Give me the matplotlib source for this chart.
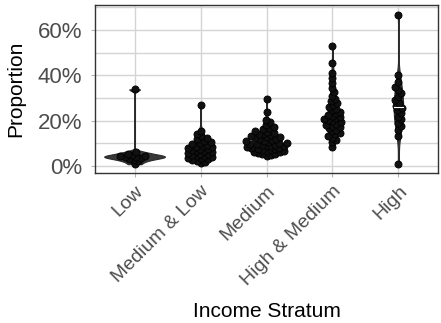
import numpy as np
import matplotlib
matplotlib.use("Agg")
import matplotlib.pyplot as plt
from matplotlib.ticker import FuncFormatter, MultipleLocator

plt.rcParams['font.family'] = ['Liberation Sans', 'DejaVu Sans']

strata = ["Low", "Medium & Low", "Medium", "High & Medium", "High"]

# proportions in percent
low = [0.8, 2.0, 2.7, 3.2, 3.6, 3.9, 4.1, 4.3, 4.6, 5.0, 5.5, 6.2, 33.8]
medium_low = [1.2, 1.8, 2.3, 2.7, 3.0, 3.4, 3.7, 4.0, 4.3, 4.6, 4.9, 5.2, 5.5,
              5.8, 6.1, 6.4, 6.7, 7.0, 7.3, 7.6, 7.9, 8.2, 8.5, 8.9, 9.3, 9.7,
              10.2, 10.7, 11.2, 11.8, 12.5, 13.3, 14.3, 15.5, 26.9]
medium = [4.5, 4.8, 5.1, 5.4, 5.7, 6.0, 6.2, 6.5, 6.7, 7.0, 7.2, 7.4, 7.7, 7.9,
          8.1, 8.3, 8.6, 8.8, 9.0, 9.2, 9.4, 9.6, 9.8, 10.0, 10.2, 10.5,
          10.8, 11.1, 11.5, 11.8, 12.0, 12.3, 12.6, 12.9, 13.2, 13.5,
          13.9, 14.3, 14.7, 15.1, 15.6, 16.1, 16.7, 17.4, 18.2, 19.2, 20.2,
          24.0, 29.5]
high_medium = [8.2, 10.5, 11.5, 12.5, 13.3, 14.0, 14.7, 15.3, 16.0, 16.6, 17.2,
               17.7, 18.2, 18.7, 19.2, 19.7, 20.1, 20.5, 21.0, 21.5, 22.0, 22.6,
               23.2, 23.8, 24.5, 25.2, 26.0, 26.8, 27.7, 28.6, 29.6, 30.8, 32.5,
               34.5, 36.5, 38.7, 40.9, 45.3, 52.9]
high = [0.9, 13.2, 15.9, 17.5, 19.0, 20.5, 21.8, 23.3, 24.7, 25.5, 26.5, 27.8,
        29.0, 30.5, 32.0, 33.5, 35.0, 37.0, 40.0, 66.8]

groups = [low, medium_low, medium, high_medium, high]

W, H, DPI = 441, 323, 100
fig = plt.figure(figsize=(W / DPI, H / DPI), dpi=DPI)
L, R, T, B = 95, 438, 5, 173
ax = fig.add_axes([L / W, 1 - B / H, (R - L) / W, (B - T) / H])
xlim = (-0.6, 4.6)
ylim = (-3.1, 71.0)
ax.set_xlim(*xlim)
ax.set_ylim(*ylim)
px_x = (R - L) / (xlim[1] - xlim[0])
px_y = (B - T) / (ylim[1] - ylim[0])


def kde(v, grid):
    v = np.asarray(v, float)
    iqr = np.subtract(*np.percentile(v, [75, 25]))
    bw = 0.9 * min(v.std(ddof=1), iqr / 1.34) * len(v) ** -0.2
    z = (grid[:, None] - v[None, :]) / bw
    return np.exp(-0.5 * z ** 2).sum(1) / (len(v) * bw * np.sqrt(2 * np.pi))


def swarm(vals, d):
    # simple beeswarm in pixel space, ties alternate sides
    y = np.asarray(vals, float) * px_y
    xs = np.zeros(len(y))
    placed = []
    side = 1
    for i in np.argsort(y, kind="stable"):
        near = [(px, py) for px, py in placed if abs(py - y[i]) < d]
        cands = [0.0]
        for px, py in near:
            dx = np.sqrt(d ** 2 - (py - y[i]) ** 2)
            cands += [px + dx, px - dx]
        for c in sorted(cands, key=lambda c: (round(abs(c), 3), -side * c)):
            if all((c - px) ** 2 + (y[i] - py) ** 2 >= d ** 2 - 1e-6 for px, py in near):
                xs[i] = c
                break
        if xs[i] != 0:
            side = -np.sign(xs[i])
        placed.append((xs[i], y[i]))
    return xs / px_x


dens = []
for g in groups:
    grid = np.linspace(min(g), max(g), 500)
    dens.append((grid, kde(g, grid)))
dmax = max(d.max() for _, d in dens)

# grid
for yv in np.arange(0, 71, 10):
    ax.axhline(yv, color="#d4d4d4", lw=1.0, zorder=0)
for i in range(len(strata)):
    ax.axvline(i, color="#d4d4d4", lw=1.0, zorder=0)

for i, (g, (grid, d)) in enumerate(zip(groups, dens)):
    hw = 0.46 * d / dmax
    ax.fill_betweenx(grid, i - hw, i + hw, color="#383838", lw=0.8,
                     edgecolor="#2a2a2a", zorder=2)
    xo = swarm(g, 4.5)
    ax.scatter(i + xo, g, s=26, facecolor="#111111", edgecolor="black",
               linewidths=0.6, zorder=4)

# median line of the High violin, the only one left visible
grid, d = dens[4]
med = np.median(high)
w = 0.46 * np.interp(med, grid, d) / dmax
ax.plot([4 - w * 0.9, 4 + w * 0.9], [med, med], color="white", lw=0.8, zorder=5)

ax.set_xticks(range(len(strata)))
ax.set_xticklabels(strata, rotation=45, ha="right", rotation_mode="anchor")
ax.yaxis.set_major_locator(MultipleLocator(20))
ax.yaxis.set_major_formatter(FuncFormatter(lambda v, p: f"{v:.0f}%"))
ax.tick_params(axis="both", labelcolor="#4d4d4d", color="#b3b3b3",
               length=3, width=0.8)
ax.tick_params(axis="y", pad=6, labelsize=16)
ax.tick_params(axis="x", pad=4, labelsize=14)
for s in ax.spines.values():
    s.set_color("#333333")
    s.set_linewidth(1.0)

ax.set_xlabel("Income Stratum", fontsize=15)
ax.set_ylabel("Proportion", fontsize=15)
ax.xaxis.set_label_coords(0.5, -0.826)
ax.xaxis.label.set_va("center")
ax.yaxis.set_label_coords(-0.23, 0.5)
ax.yaxis.label.set_va("center")

fig.savefig("out.png", dpi=DPI)
